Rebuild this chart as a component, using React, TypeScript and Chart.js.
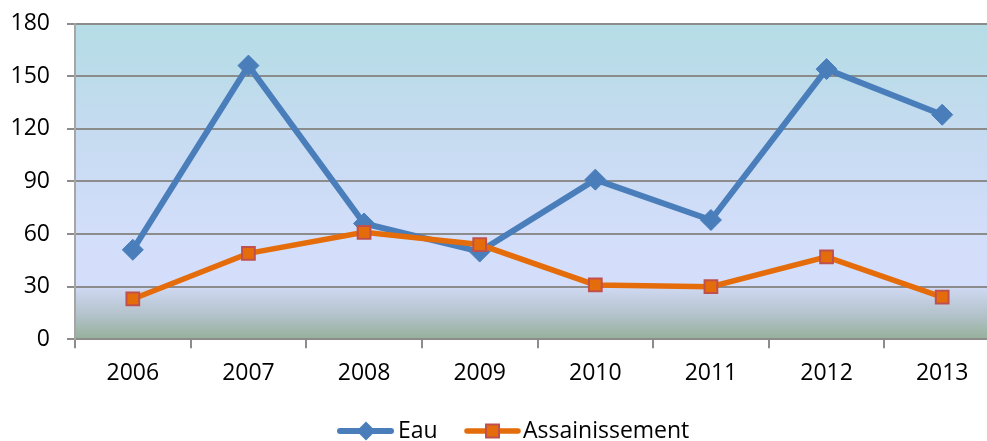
import React, { useEffect, useRef } from 'react';
import { Chart, registerables } from 'chart.js';

Chart.register(...registerables);

const years = ['2006', '2007', '2008', '2009', '2010', '2011', '2012', '2013'];
const eau = [51, 156, 66, 50, 91, 68, 154, 128];
const assainissement = [23, 49, 61, 54, 31, 30, 47, 24];
const seriesNames = ['Eau', 'Assainissement'];
const yMin = 0;
const yMax = 180;
const yStep = 30;

const BLUE = '#4a7ebb';
const ORANGE = '#e46c0a';
const RED_BORDER = '#c0504d';
const GRID = '#8c8c8c';
const FONT = "'Open Sans', sans-serif";

const bgPlugin = {
  id: 'plotBg',
  beforeDraw(chart: any) {
    const { ctx, chartArea } = chart;
    if (!chartArea) return;
    const { left, right, top, bottom } = chartArea;
    const g = ctx.createLinearGradient(0, top, 0, bottom);
    g.addColorStop(0, '#b5dde6');
    g.addColorStop(0.17, '#bcdcea');
    g.addColorStop(0.33, '#c5dbf0');
    g.addColorStop(0.5, '#ccdcf5');
    g.addColorStop(0.67, '#d3defa');
    g.addColorStop(0.83, '#d4defc');
    g.addColorStop(0.845, '#ccd6ee');
    g.addColorStop(0.92, '#b4c3cc');
    g.addColorStop(1, '#96b09a');
    ctx.save();
    ctx.fillStyle = g;
    ctx.fillRect(left, top, right - left, bottom - top);
    ctx.restore();
  },
};

function drawDiamond(ctx: CanvasRenderingContext2D, x: number, y: number, r: number, color: string) {
  ctx.beginPath();
  ctx.moveTo(x, y - r);
  ctx.lineTo(x + r, y);
  ctx.lineTo(x, y + r);
  ctx.lineTo(x - r, y);
  ctx.closePath();
  ctx.fillStyle = color;
  ctx.fill();
}

const legendPlugin = {
  id: 'customLegend',
  afterDraw(chart: any) {
    const ctx: CanvasRenderingContext2D = chart.ctx;
    ctx.save();
    const ly = 431;
    // Eau
    ctx.strokeStyle = BLUE;
    ctx.lineWidth = 6;
    ctx.lineCap = 'round';
    ctx.beginPath();
    ctx.moveTo(340, ly);
    ctx.lineTo(391, ly);
    ctx.stroke();
    drawDiamond(ctx, 366, ly, 9.5, BLUE);
    ctx.font = `23px ${FONT}`;
    ctx.fillStyle = '#000';
    ctx.textBaseline = 'alphabetic';
    ctx.textAlign = 'left';
    ctx.fillText(seriesNames[0], 398, 438);
    // Assainissement
    ctx.strokeStyle = ORANGE;
    ctx.lineWidth = 5.5;
    ctx.beginPath();
    ctx.moveTo(467, ly);
    ctx.lineTo(518, ly);
    ctx.stroke();
    ctx.fillStyle = ORANGE;
    ctx.fillRect(486, ly - 6.5, 13, 13);
    ctx.strokeStyle = RED_BORDER;
    ctx.lineWidth = 2;
    ctx.strokeRect(486, ly - 6.5, 13, 13);
    ctx.fillStyle = '#000';
    ctx.fillText(seriesNames[1], 523, 438);
    ctx.restore();
  },
};

export default function App() {
  const ref = useRef<HTMLCanvasElement | null>(null);

  useEffect(() => {
    if (!ref.current) return;
    const chart = new Chart(ref.current, {
      type: 'line',
      data: {
        labels: years,
        datasets: [
          {
            label: seriesNames[0],
            data: eau,
            borderColor: BLUE,
            backgroundColor: BLUE,
            borderWidth: 6,
            pointStyle: 'rectRot',
            pointRadius: 10.5,
            pointBackgroundColor: BLUE,
            pointBorderColor: BLUE,
            pointBorderWidth: 1,
            tension: 0,
            order: 1,
            clip: false,
          },
          {
            label: seriesNames[1],
            data: assainissement,
            borderColor: ORANGE,
            backgroundColor: ORANGE,
            borderWidth: 5.5,
            pointStyle: 'rect',
            pointRadius: 9,
            pointBackgroundColor: ORANGE,
            pointBorderColor: RED_BORDER,
            pointBorderWidth: 2,
            tension: 0,
            order: 0,
            clip: false,
          },
        ],
      },
      options: {
        responsive: false,
        animation: false,
        events: [],
        layout: { autoPadding: false, padding: { left: 0, right: 0, top: 23.5, bottom: 0 } },
        plugins: {
          legend: { display: false },
          tooltip: { enabled: false },
        },
        scales: {
          x: {
            offset: true,
            grid: {
              offset: true,
              drawOnChartArea: false,
              drawTicks: true,
              tickLength: 9,
              color: GRID,
              lineWidth: 2,
            },
            border: { display: true, color: GRID, width: 2 },
            ticks: {
              font: { family: FONT, size: 23 },
              color: '#000',
              padding: 11,
              maxRotation: 0,
              autoSkip: false,
            },
            afterFit(scale: any) {
              scale.height = 101.7;
              scale.paddingLeft = 0;
              scale.paddingRight = 0;
            },
          },
          y: {
            min: yMin,
            max: yMax,
            grid: {
              color: GRID,
              lineWidth: 2,
              drawTicks: true,
              tickLength: 8,
            },
            border: { display: true, color: '#a6a6a6', width: 2 },
            ticks: {
              stepSize: yStep,
              font: { family: FONT, size: 23 },
              color: '#000',
              padding: 17,
            },
            afterFit(scale: any) {
              scale.width = 75;
              scale.paddingTop = 0;
              scale.paddingBottom = 0;
            },
          },
        },
      },
      plugins: [bgPlugin, legendPlugin],
    });
    return () => chart.destroy();
  }, []);

  return (
    <div
      style={{
        position: 'fixed',
        left: 0,
        top: 0,
        width: 987,
        height: 441,
        overflow: 'hidden',
        background: '#fff',
      }}
    >
      <div style={{ position: 'absolute', left: 0, top: 0, width: 1000, height: 441 }}>
        <canvas ref={ref} width={1000} height={441} style={{ display: 'block', width: 1000, height: 441 }} />
      </div>
    </div>
  );
}
